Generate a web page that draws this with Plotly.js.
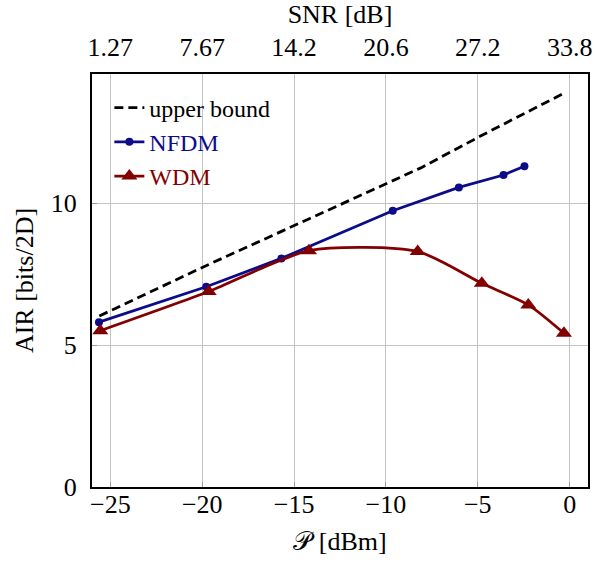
<!DOCTYPE html>
<html>
<head>
<meta charset="utf-8">
<script src="https://cdn.plot.ly/plotly-3.0.1.min.js"></script>
<style>html,body{margin:0;padding:0;background:#fff;}#chart{width:595px;height:565px;}</style>
</head>
<body>
<div id="chart"></div>
<script>
// Data
const powerTicks = [-25, -20, -15, -10, -5, 0];
const snrTickLabels = ['1.27', '7.67', '14.2', '20.6', '27.2', '33.8'];
const airTicks = [0, 5, 10];

const upperX = [-25.6, -19.7, -14.2, -8.1, -4.8, -2.3, -0.26];
const upperY = [6.03, 7.83, 9.45, 11.25, 12.39, 13.22, 13.9];

const nfdmX = [-25.62, -19.78, -15.69, -9.63, -6.03, -3.60, -2.46];
const nfdmY = [5.81, 7.06, 8.06, 9.74, 10.56, 11.0, 11.31];

const wdmX = [-25.55, -19.65, -14.19, -8.27, -4.78, -2.25, -0.31];
const wdmY = [5.51, 6.89, 8.33, 8.30, 7.18, 6.42, 5.42];

const blue = '#0c0c8a';
const red = '#820000';
const serif = "'Liberation Serif', 'Times New Roman', serif";
const fs = 26;

const traces = [
  {x: upperX, y: upperY, mode: 'lines', name: 'upper bound',
   line: {color: '#000', width: 2.8, dash: '9px,5px'}},
  {x: nfdmX, y: nfdmY, mode: 'lines+markers',
   name: '<span style="color:' + blue + '">NFDM</span>',
   line: {color: blue, width: 2.8}, marker: {symbol: 'circle', size: 8, color: blue}},
  {x: wdmX, y: wdmY, mode: 'lines+markers',
   name: '<span style="color:' + red + '">WDM</span>',
   line: {color: red, width: 2.8, shape: 'spline', smoothing: 0.7},
   marker: {symbol: 'triangle-up', size: 14, color: red}},
  {x: upperX, y: upperY, xaxis: 'x2', mode: 'lines', showlegend: false,
   hoverinfo: 'skip', opacity: 0, line: {width: 0}}
];

const axisCommon = {
  showgrid: true, gridcolor: '#c4c4c4', gridwidth: 1,
  showline: true, linecolor: '#000', linewidth: 2, mirror: true,
  ticks: 'inside', ticklen: 5, tickcolor: '#9a9a9a', tickwidth: 1,
  zeroline: false,
  tickfont: {family: serif, size: fs, color: '#000'}
};

const layout = {
  width: 595, height: 565,
  margin: {l: 92, r: 7, t: 74, b: 78},
  paper_bgcolor: '#fff', plot_bgcolor: '#fff',
  showlegend: true,
  legend: {x: 0.035, y: 0.972, xanchor: 'left', yanchor: 'top',
    bgcolor: 'rgba(0,0,0,0)', borderwidth: 0,
    font: {family: serif, size: 24, color: '#000'}, tracegroupgap: 0},
  xaxis: Object.assign({}, axisCommon, {
    range: [-26, 1], tickmode: 'array', tickvals: powerTicks,
    ticklabelstandoff: -7,
    title: {text: '\uD835\uDCAB [dBm]', font: {family: serif, size: fs, color: '#000'}, standoff: 14}
  }),
  xaxis2: {
    overlaying: 'x', side: 'top', range: [-26, 1],
    tickmode: 'array', tickvals: powerTicks, ticktext: snrTickLabels,
    showgrid: false, showline: false, zeroline: false, ticks: '',
    ticklabelstandoff: 12,
    tickfont: {family: serif, size: fs, color: '#000'},
    title: {text: 'SNR [dB]', font: {family: serif, size: fs, color: '#000'}, standoff: 4}
  },
  yaxis: Object.assign({}, axisCommon, {
    range: [0, 14.56], tickmode: 'array', tickvals: airTicks,
    ticklabelstandoff: 8,
    title: {text: 'AIR [bits/2D]', font: {family: serif, size: fs, color: '#000'}, standoff: 10}
  })
};

Plotly.newPlot('chart', traces, layout, {displayModeBar: false, staticPlot: true});
</script>
</body>
</html>
